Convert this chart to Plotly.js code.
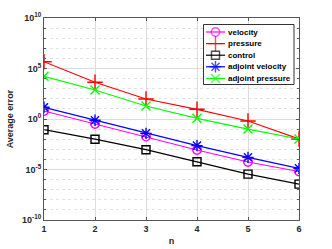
<!DOCTYPE html>
<html><head><meta charset="utf-8">
<script src="https://cdn.plot.ly/plotly-3.0.1.min.js"></script>
<style>body{margin:0;background:#fff}#c{width:332px;height:249px}</style>
</head><body><div id="c"></div>
<script>
var n = [1, 2, 3, 4, 5, 6];
var velocity = [6.2e0, 3.2e-1, 1.8e-2, 8.5e-4, 5.5e-5, 6.3e-6];
var pressure = [4.7e5, 4.3e3, 9.5e1, 9.1e0, 6.3e-1, 1.05e-2];
var control = [8.7e-2, 1.0e-2, 9.1e-4, 5.9e-5, 3.5e-6, 3.6e-7];
var adjointVelocity = [1.45e1, 7.4e-1, 3.8e-2, 2.3e-3, 1.6e-4, 1.3e-5];
var adjointPressure = [1.7e4, 7.4e2, 1.95e1, 1.17e0, 1.0e-1, 1.05e-2];
var seriesNames = ['velocity', 'pressure', 'control', 'adjoint velocity', 'adjoint pressure'];
var seriesColors = ['#ff00ff', '#ff0000', '#000000', '#0000ff', '#00ff00'];
var seriesSymbols = ['circle-open', 'cross-thin-open', 'square-open', 'asterisk-open', 'x-thin-open'];
var markerSizes = [8.5, 11, 8, 9.5, 9];
var yTickVals = [1e-10, 1e-5, 1, 1e5, 1e10];
var yTickText = ['10<sup>-10</sup>', '10<sup>-5</sup>', '10<sup>0</sup>', '10<sup>5</sup>', '10<sup>10</sup>'];
var yMinorVals = [];
for (var e = -10; e <= 10; e++) yMinorVals.push(Math.pow(10, e));
var allSeries = [velocity, pressure, control, adjointVelocity, adjointPressure];

var data = [];
allSeries.forEach(function (y, i) {
  data.push({x: n, y: y, name: seriesNames[i], type: 'scatter', mode: 'lines+markers',
    showlegend: false,
    line: {color: seriesColors[i], width: 1.2},
    marker: {symbol: seriesSymbols[i], size: markerSizes[i], color: seriesColors[i], line: {color: seriesColors[i], width: 1.4}}});
});

// custom compact legend on a pixel-mapped overlay axis: box, key samples, labels
data.push({x: [203.5, 294, 294, 203.5, 203.5], y: [24.5, 24.5, 84.5, 84.5, 24.5],
  xaxis: 'x2', yaxis: 'y2', type: 'scatter', mode: 'lines', fill: 'toself', fillcolor: '#fff',
  line: {color: '#333', width: 1}, showlegend: false, hoverinfo: 'skip'});
var legRowY = [32, 43.6, 55.2, 66.8, 78.4];
var annotations = [];
seriesNames.forEach(function (name, i) {
  data.push({x: [206, 215.5, 225], y: [legRowY[i], legRowY[i], legRowY[i]],
    xaxis: 'x2', yaxis: 'y2', type: 'scatter', mode: 'lines+markers', showlegend: false, hoverinfo: 'skip',
    line: {color: seriesColors[i], width: 1.2},
    marker: {symbol: seriesSymbols[i], size: [0, markerSizes[i], 0], color: seriesColors[i], line: {color: seriesColors[i], width: 1.4}}});
  annotations.push({xref: 'x2', yref: 'y2', x: 225.5, y: legRowY[i], text: name, showarrow: false,
    xanchor: 'left', yanchor: 'middle',
    font: {family: 'Liberation Sans, Arial, sans-serif', size: 8, color: '#000', weight: 'bold'}});
});

var font = {family: 'Liberation Sans, Arial, sans-serif', size: 9, color: '#262626', weight: 'bold'};
var layout = {
  width: 332, height: 249,
  margin: {l: 44, r: 33, t: 18, b: 29},
  paper_bgcolor: '#fff', plot_bgcolor: '#fff',
  font: font,
  showlegend: false,
  annotations: annotations,
  xaxis: {range: [1, 6], tickvals: n, ticktext: n.map(String),
    showgrid: true, gridcolor: '#dcdcdc', gridwidth: 1,
    zeroline: false, showline: true, linecolor: '#555', linewidth: 1, mirror: 'ticks',
    ticks: 'inside', ticklen: 3, tickcolor: '#555',
    tickfont: font,
    title: {text: 'n', font: font, standoff: 4}},
  yaxis: {type: 'log', range: [-10, 10], tickmode: 'array', tickvals: yTickVals, ticktext: yTickText,
    showgrid: true, gridcolor: '#dcdcdc', gridwidth: 1,
    zeroline: false, showline: true, linecolor: '#555', linewidth: 1, mirror: 'ticks',
    ticks: 'inside', ticklen: 3, tickcolor: '#555',
    tickfont: font,
    minor: {tickmode: 'array', tickvals: yMinorVals, showgrid: true, gridcolor: '#e2e2e2', griddash: 'dot', gridwidth: 1, ticks: 'inside', ticklen: 2, tickcolor: '#555'},
    title: {text: 'Average error', font: font, standoff: 6}},
  xaxis2: {overlaying: 'x', range: [44, 299], visible: false, fixedrange: true},
  yaxis2: {overlaying: 'y', range: [220, 18], visible: false, fixedrange: true}
};
Plotly.newPlot('c', data, layout, {staticPlot: true});
</script></body></html>
